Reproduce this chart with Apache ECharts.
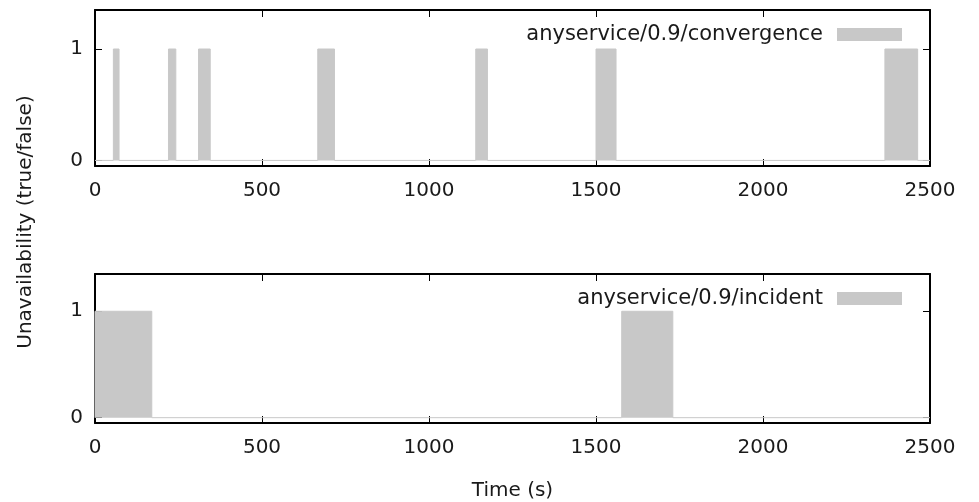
<!DOCTYPE html>
<html>
<head>
<meta charset="utf-8">
<script src="https://cdn.jsdelivr.net/npm/echarts@6/dist/echarts.min.js"></script>
<style>
html,body{margin:0;padding:0;background:#fff;}
#chart{width:979px;height:502px;}
</style>
</head>
<body>
<div id="chart"></div>
<script>
// ---- data ----
const seriesNames = ['anyservice/0.9/convergence', 'anyservice/0.9/incident'];
const convergenceStart = [55, 220, 310, 667, 1140, 1500, 2365];
const convergenceEnd   = [72, 242, 345, 717, 1175, 1560, 2463];
const incidentStart = [0, 1577];
const incidentEnd   = [170, 1730];
const xTicks = [0, 500, 1000, 1500, 2000, 2500];
const yTicks = [0, 1];
const xMin = 0, xMax = 2500;
const yMin = -0.05, yMax = 1.35;

function stepPoints(starts, ends) {
  const pts = [[xMin, 0]];
  for (let i = 0; i < starts.length; i++) {
    pts.push([starts[i], 0], [starts[i], 1], [ends[i], 1], [ends[i], 0]);
  }
  pts.push([xMax, 0]);
  return pts;
}

const FONT = 'DejaVu Sans';
const TXT = '#1a1a1a';
const FILL = '#c8c8c8';
const FS = 20;

const grids = [
  {left: 95, top: 10, width: 835, height: 156},
  {left: 95, top: 274, width: 835, height: 156}
];

const plain = v => String(v);

const xAxes = [], yAxes = [];
grids.forEach((g, i) => {
  xAxes.push({
    type: 'value', gridIndex: i, position: 'bottom', min: xMin, max: xMax, interval: 500,
    axisLine: {show: true, onZero: false, lineStyle: {color: '#000', width: 2}},
    axisTick: {show: true, inside: true, length: 7, lineStyle: {color: '#000', width: 1}},
    axisLabel: {show: true, margin: 15, fontSize: FS, fontFamily: FONT, color: TXT,
      customValues: xTicks, formatter: plain},
    splitLine: {show: false},
    name: i === 1 ? 'Time (s)' : '', nameLocation: 'middle', nameGap: 58,
    nameTextStyle: {fontSize: FS, fontFamily: FONT, color: TXT}
  });
  xAxes.push({
    type: 'value', gridIndex: i, position: 'top', min: xMin, max: xMax, interval: 500,
    axisLine: {show: true, onZero: false, lineStyle: {color: '#000', width: 2}},
    axisTick: {show: true, inside: true, length: 7, lineStyle: {color: '#000', width: 1}},
    axisLabel: {show: false}, splitLine: {show: false}
  });
  yAxes.push({
    type: 'value', gridIndex: i, position: 'left', min: yMin, max: yMax,
    axisLine: {show: true, onZero: false, lineStyle: {color: '#000', width: 2}},
    axisTick: {show: true, inside: true, length: 7, customValues: yTicks, lineStyle: {color: '#000', width: 1}},
    axisLabel: {show: true, margin: 12, fontSize: FS, fontFamily: FONT, color: TXT, customValues: yTicks, formatter: plain},
    splitLine: {show: false}
  });
  yAxes.push({
    type: 'value', gridIndex: i, position: 'right', min: yMin, max: yMax,
    axisLine: {show: true, onZero: false, lineStyle: {color: '#000', width: 2}},
    axisTick: {show: true, inside: true, length: 7, customValues: yTicks, lineStyle: {color: '#000', width: 1}},
    axisLabel: {show: false}, splitLine: {show: false}
  });
});

function mkSeries(name, idx, starts, ends) {
  return {
    name: name, type: 'line', xAxisIndex: idx * 2, yAxisIndex: idx * 2,
    data: stepPoints(starts, ends), showSymbol: false, symbol: 'none',
    lineStyle: {color: FILL, width: 1}, itemStyle: {color: FILL},
    areaStyle: {color: FILL, opacity: 1, origin: 0}, animation: false
  };
}

const option = {
  backgroundColor: '#fff',
  animation: false,
  grid: grids,
  xAxis: xAxes,
  yAxis: yAxes,
  legend: [
    {data: [{name: seriesNames[0], icon: 'rect'}], right: 72, top: 19, align: 'right',
      itemWidth: 65, itemHeight: 13, selectedMode: false,
      textStyle: {fontSize: 21, fontFamily: FONT, color: TXT, padding: [0, 9, 0, 0]}},
    {data: [{name: seriesNames[1], icon: 'rect'}], right: 72, top: 283, align: 'right',
      itemWidth: 65, itemHeight: 13, selectedMode: false,
      textStyle: {fontSize: 21, fontFamily: FONT, color: TXT, padding: [0, 9, 0, 0]}}
  ],
  graphic: [{
    type: 'text', x: 26, y: 222, rotation: Math.PI / 2,
    style: {text: 'Unavailability (true/false)', fontSize: FS, fontFamily: FONT, fill: TXT,
      textAlign: 'center', textVerticalAlign: 'middle'}
  }],
  series: [
    mkSeries(seriesNames[0], 0, convergenceStart, convergenceEnd),
    mkSeries(seriesNames[1], 1, incidentStart, incidentEnd)
  ]
};

const chart = echarts.init(document.getElementById('chart'), null, {renderer: 'canvas'});
chart.setOption(option);
</script>
</body>
</html>
